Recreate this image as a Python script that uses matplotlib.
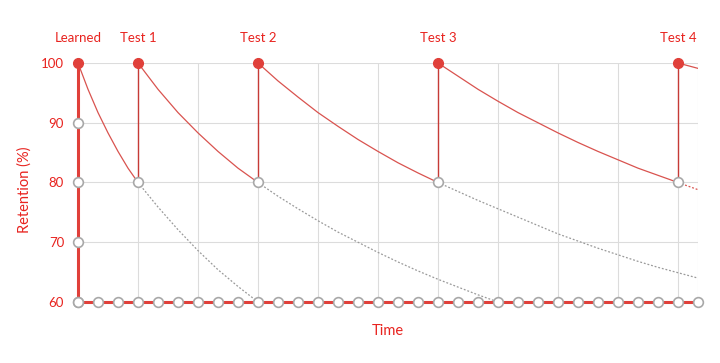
import matplotlib.pyplot as plt

# time axis (units of 1 step) and event labels
tick_times = list(range(0, 32))
event_times = [0, 3, 9, 18, 30]
event_names = ['Learned', 'Test 1', 'Test 2', 'Test 3', 'Test 4']
y_ticks = [60, 70, 80, 90, 100]

# solid forgetting curves
c1_t = [0, 0.5, 1, 1.5, 2, 2.5, 3]
c1_v = [100, 95.6, 91.7, 88.3, 85.2, 82.4, 80]
c2_t = [3, 4, 5, 6, 7, 8, 9]
c2_v = [100, 95.6, 91.7, 88.3, 85.2, 82.4, 80]
c3_t = [9, 10, 11, 12, 13, 14, 15, 16, 17, 18]
c3_v = [100, 97.0, 94.3, 91.7, 89.4, 87.2, 85.2, 83.3, 81.6, 80]
c4_t = [18, 19, 20, 21, 22, 23, 24, 25, 26, 27, 28, 29, 30]
c4_v = [100, 97.8, 95.6, 93.6, 91.7, 90.0, 88.3, 86.7, 85.2, 83.8, 82.4, 81.2, 80]
c5_t = [30, 31]
c5_v = [100, 99.1]

# dotted "no review" continuations
d1_t = [3, 4, 5, 6, 7, 8, 9]
d1_v = [80, 75.9, 72.1, 68.6, 65.4, 62.6, 60]
d2_t = [9, 10, 11, 12, 13, 14, 15, 16, 17, 18, 19, 20, 21]
d2_v = [80, 77.7, 75.6, 73.6, 71.7, 70.0, 68.3, 66.7, 65.2, 63.8, 62.5, 61.2, 60]
d3_t = [18, 19, 20, 21, 22, 23, 24, 25, 26, 27, 28, 29, 30, 31]
d3_v = [80, 78.5, 77.0, 75.6, 74.2, 72.8, 71.4, 70.2, 69.0, 67.9, 66.8, 65.8, 64.9, 64.0]
d4_t = [30, 31]
d4_v = [80, 78.8]

red = '#e0403a'
txt_red = '#e8231f'
curve_red = '#d9534f'
gray = '#a8a8a8'

fig = plt.figure(figsize=(7.2, 3.63), dpi=100)
ax = fig.add_axes([78 / 720, 1 - 302 / 363, 620 / 720, 239 / 363])
ax.set_xlim(0, 31)
ax.set_ylim(60, 100)

# grid
ax.set_xticks([t for t in tick_times if t % 3 == 0] + [31])
ax.set_xticklabels([])
ax.set_yticks(y_ticks)
ax.set_yticklabels([str(v) for v in y_ticks], color=txt_red, fontsize=9.5, family='Lato')
ax.tick_params(length=0, pad=10)
ax.grid(color='#dcdcdc', linewidth=0.8)
for s in ax.spines.values():
    s.set_visible(False)

# dotted continuations
for t, v in [(d1_t, d1_v), (d2_t, d2_v), (d3_t, d3_v)]:
    ax.plot(t, v, color='#9a9a9a', linewidth=0.9, linestyle=(0, (1.5, 1.5)))
ax.plot(d4_t, d4_v, color=curve_red, linewidth=0.9, linestyle=(0, (1.5, 1.5)))

# solid curves
for t, v in [(c1_t, c1_v), (c2_t, c2_v), (c3_t, c3_v), (c4_t, c4_v), (c5_t, c5_v)]:
    ax.plot(t, v, color=curve_red, linewidth=0.9)

# review jumps
for t in event_times[1:]:
    ax.plot([t, t], [80, 100], color='#c63b36', linewidth=1.0)

# axis lines
ax.plot([0, 0], [60, 100], color=red, linewidth=2.2, clip_on=False, zorder=4)
ax.plot([0, 31], [60, 60], color=red, linewidth=2.2, clip_on=False, zorder=4)

# open markers along axes and at the test points
ax.plot(tick_times, [60] * len(tick_times), 'o', ms=7, mfc='white', mec=gray,
        mew=1.2, linestyle='none', clip_on=False, zorder=5)
ax.plot([0] * 4, y_ticks[:4], 'o', ms=7, mfc='white', mec=gray,
        mew=1.2, linestyle='none', clip_on=False, zorder=5)
ax.plot(event_times[1:], [80] * 4, 'o', ms=7, mfc='white', mec=gray,
        mew=1.2, linestyle='none', clip_on=False, zorder=5)

# filled markers at 100
ax.plot(event_times, [100] * len(event_times), 'o', ms=7, color=red,
        linestyle='none', clip_on=False, zorder=5)

for t, name in zip(event_times, event_names):
    ax.text(t, 103.2, name, ha='center', va='bottom', color=txt_red,
            fontsize=9.5, family='Lato')

ax.set_xlabel('Time', color=txt_red, fontsize=10.5, family='Lato', labelpad=6)
ax.set_ylabel('Retention (%)', color=txt_red, fontsize=10.5, family='Lato')
ax.yaxis.set_label_coords(-0.075, 0.47)

fig.savefig('out.png', dpi=100)
